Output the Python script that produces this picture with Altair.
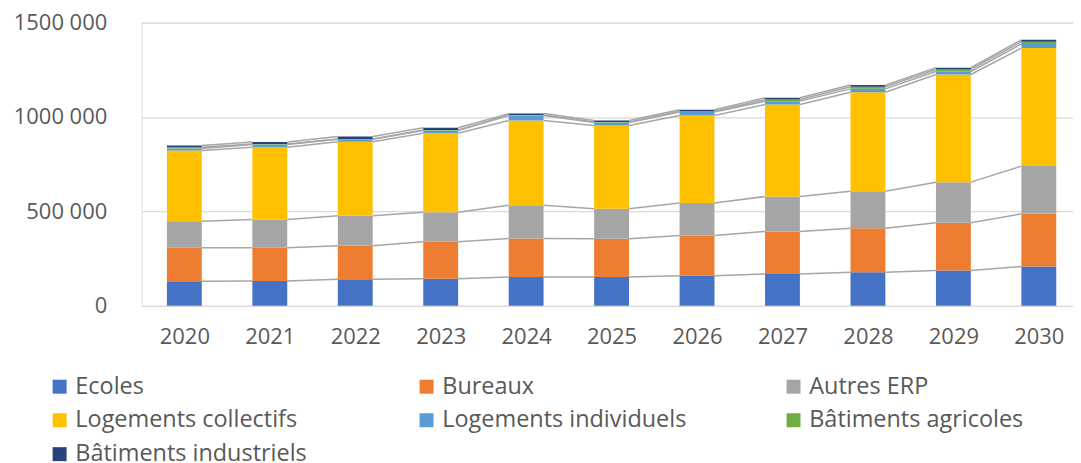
import altair as alt
import pandas as pd

years = [2020, 2021, 2022, 2023, 2024, 2025, 2026, 2027, 2028, 2029, 2030]
series = ["Ecoles", "Bureaux", "Autres ERP", "Logements collectifs",
          "Logements individuels", "Bâtiments agricoles", "Bâtiments industriels"]
colors = ["#4472C4", "#ED7D31", "#A5A5A5", "#FFC000", "#5B9BD5", "#70AD47", "#264478"]

ecoles = [130000, 132000, 141000, 143000, 152000, 152000, 159000, 169000, 178000, 187000, 208000]
bureaux = [177000, 175000, 177000, 196000, 205000, 203000, 213000, 225000, 233000, 253000, 279000]
autres_erp = [141000, 150000, 159000, 157000, 176000, 159000, 172000, 185000, 196000, 215000, 253000]
log_collectifs = [375000, 383000, 392000, 418000, 448000, 441000, 464000, 487000, 524000, 570000, 625000]
log_individuels = [10000, 14000, 13000, 14000, 27000, 16000, 19000, 18000, 18000, 16000, 22000]
bat_agricoles = [7000, 3000, 2000, 3000, 3000, 3000, 3000, 9000, 11000, 11000, 12000]
bat_industriels = [9000, 10000, 13000, 12000, 7000, 7000, 8000, 9000, 9000, 9000, 10000]

values = [ecoles, bureaux, autres_erp, log_collectifs, log_individuels, bat_agricoles, bat_industriels]

rows = []
for i, y in enumerate(years):
    cum = 0
    for k, s in enumerate(series):
        v = values[k][i]
        rows.append({"year": y, "series": s, "order": k, "y0": cum, "y1": cum + v})
        cum += v
bars = pd.DataFrame(rows)

lrows = []
for k, s in enumerate(series):
    sub = bars[bars.series == s].sort_values("year").reset_index(drop=True)
    for i in range(len(sub) - 1):
        lrows.append({"series": s, "year": sub.year[i], "next": sub.year[i + 1],
                      "ya": sub.y1[i], "yb": sub.y1[i + 1]})
lines = pd.DataFrame(lrows)

HALF = 0.204
FONT = "Open Sans"
GREY = "#595959"

xscale = alt.Scale(domain=[2019.5, 2030.4], nice=False, zero=False)
yscale = alt.Scale(domain=[0, 1500000], nice=False)

bar_layer = alt.Chart(bars).transform_calculate(
    xl=f"datum.year - {HALF}", xr=f"datum.year + {HALF}"
).mark_bar().encode(
    x=alt.X("xl:Q", scale=xscale, title=None,
            axis=alt.Axis(values=years, format="d", grid=False, ticks=False, domain=False,
                          labelFontSize=22, labelColor=GREY, labelFont=FONT,
                          labelPadding=21)),
    x2="xr:Q",
    y=alt.Y("y0:Q", scale=yscale, title=None,
            axis=alt.Axis(values=[0, 500000, 1000000, 1500000],
                          labelExpr="datum.value == 0 ? '0' : format(datum.value/1000, 'd') + ' 000'",
                          grid=True, gridColor="#D9D9D9", gridWidth=1.3,
                          ticks=False, domain=False, labelFontSize=22, labelColor=GREY,
                          labelFont=FONT, labelPadding=35)),
    y2="y1:Q",
    color=alt.Color("series:N", scale=alt.Scale(domain=series, range=colors), title=None,
                    sort=series,
                    legend=alt.Legend(orient="none", legendX=-94, legendY=353, columns=3,
                                      direction="horizontal",
                                      gridAlign="all", columnPadding=95, rowPadding=9,
                                      symbolType="square", symbolSize=196, symbolStrokeWidth=0,
                                      symbolOffset=0, labelOffset=4,
                                      labelFontSize=23.5, labelFont=FONT, labelColor=GREY,
                                      labelLimit=400, padding=0)),
    order="order:Q",
)

line_layer = alt.Chart(lines).transform_calculate(
    xa=f"datum.year + {HALF}", xb=f"datum.next - {HALF}"
).mark_rule(color="#A6A6A6", strokeWidth=1.5).encode(
    x=alt.X("xa:Q", scale=xscale),
    x2="xb:Q",
    y=alt.Y("ya:Q", scale=yscale),
    y2="yb:Q",
)

chart = alt.layer(line_layer, bar_layer).properties(
    width=934, height=284, padding={"left": 5, "top": 3, "right": 0, "bottom": 0}
).configure_view(stroke=None).configure(background="white")

chart.save("out.html", embed_options={"renderer": "svg", "actions": False})
